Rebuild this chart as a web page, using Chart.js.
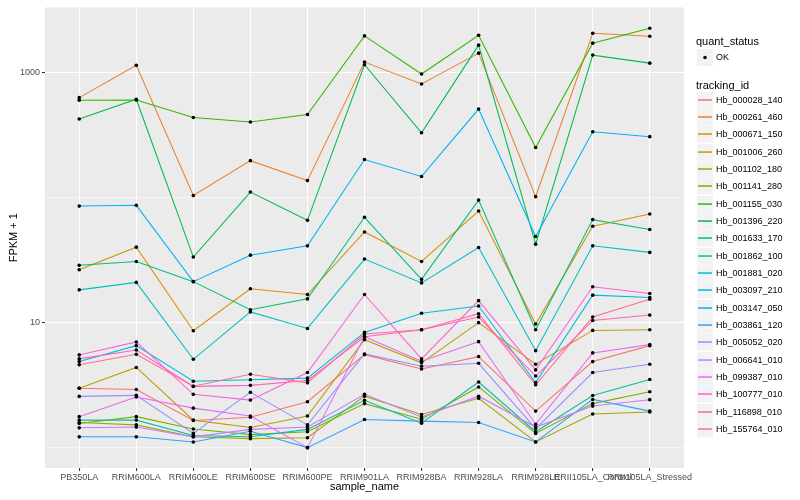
<!DOCTYPE html>
<html>
<head>
<meta charset="utf-8">
<script src="https://cdn.jsdelivr.net/npm/chart.js@4"></script>
<style>
  body { margin: 0; background: #fff; font-family: "Liberation Sans", Arial, sans-serif; }
  #wrap { position: relative; width: 800px; height: 500px; }
  .ttl { position: absolute; left: 696px; font-size: 11px; line-height: 13px; color: #000; white-space: nowrap; }
  .lab { position: absolute; left: 716px; font-size: 9px; line-height: 11px; color: #000; white-space: nowrap; }
</style>
</head>
<body>
<div id="wrap">
  <canvas id="chart" width="800" height="500"></canvas>
  <div id="legend"></div>
</div>
<script>
// x categories
const categories = ['PB350LA', 'RRIM600LA', 'RRIM600LE', 'RRIM600SE', 'RRIM600PE', 'RRIM901LA',
  'RRIM928BA', 'RRIM928LA', 'RRIM928LE', 'RRII105LA_Control', 'RRII105LA_Stressed'];

// y axis (FPKM + 1, log10)
const yGridValues = [1, 10, 100, 1000];
const yTickLabels = [10, 1000];

// FPKM + 1 per tracking id, one value per sample
const hb_000028_140 = [2.99, 2.92, 1.65, 1.75, 2.33, 5.55, 4.26, 5.35, 1.96, 4.88, 6.55];
const hb_000261_460 = [632, 1146, 104, 198, 137, 1217, 813, 1435, 102, 2070, 1959];
const hb_000671_150 = [26.5, 40.2, 8.62, 18.7, 16.8, 53.2, 30.9, 78.2, 9.75, 59.1, 74.0];
const hb_001006_260 = [2.99, 4.38, 1.66, 1.45, 1.79, 7.31, 4.77, 10.0, 4.65, 8.67, 8.78];
const hb_001102_180 = [1.59, 1.52, 1.22, 1.18, 1.20, 2.58, 1.84, 2.48, 1.11, 1.86, 1.93];
const hb_001141_280 = [1.56, 1.77, 1.41, 1.27, 1.34, 2.25, 1.69, 3.06, 1.30, 2.25, 2.80];
const hb_001155_030 = [603, 605, 438, 403, 463, 1972, 977, 1995, 252, 1726, 2270];
const hb_001396_220 = [426, 614, 33.5, 111, 65.9, 1159, 331, 1663, 42.5, 1384, 1194];
const hb_001633_170 = [28.8, 30.9, 21.3, 12.7, 15.5, 69.7, 22.2, 95.7, 8.78, 66.8, 55.6];
const hb_001862_100 = [1.66, 1.66, 1.25, 1.22, 1.40, 2.39, 1.57, 3.35, 1.34, 2.61, 3.51];
const hb_001881_020 = [18.3, 21.0, 5.09, 12.2, 8.99, 32.3, 20.8, 40.0, 5.97, 41.2, 36.5];
const hb_003097_210 = [4.88, 6.55, 3.40, 3.49, 3.60, 8.36, 11.9, 13.6, 3.32, 16.6, 15.9];
const hb_003147_050 = [85.7, 86.9, 21.3, 34.7, 41.2, 202, 148, 512, 48.9, 337, 308];
const hb_003861_120 = [1.22, 1.22, 1.11, 1.35, 1.00, 1.68, 1.63, 1.59, 1.11, 2.43, 1.96];
const hb_005052_020 = [2.57, 2.62, 1.30, 2.77, 1.52, 5.62, 4.48, 4.73, 1.42, 3.99, 4.65];
const hb_006641_010 = [1.44, 1.46, 1.22, 1.40, 1.46, 2.67, 1.76, 2.58, 1.46, 2.15, 2.42];
const hb_099387_010 = [1.77, 2.54, 2.07, 1.79, 1.00, 7.72, 4.91, 7.05, 1.54, 5.73, 6.67];
const hb_100777_010 = [5.52, 7.01, 2.67, 2.40, 3.99, 16.8, 5.13, 15.0, 4.19, 19.4, 17.1];
const hb_116898_010 = [5.13, 6.05, 3.09, 3.15, 3.45, 7.72, 8.78, 11.1, 3.74, 10.4, 11.5];
const hb_155764_010 = [4.60, 5.58, 3.10, 3.87, 3.30, 8.11, 8.78, 11.8, 3.18, 11.1, 15.4];

const trackingIds = ['Hb_000028_140', 'Hb_000261_460', 'Hb_000671_150', 'Hb_001006_260', 'Hb_001102_180',
  'Hb_001141_280', 'Hb_001155_030', 'Hb_001396_220', 'Hb_001633_170', 'Hb_001862_100',
  'Hb_001881_020', 'Hb_003097_210', 'Hb_003147_050', 'Hb_003861_120', 'Hb_005052_020',
  'Hb_006641_010', 'Hb_099387_010', 'Hb_100777_010', 'Hb_116898_010', 'Hb_155764_010'];
const seriesValues = [hb_000028_140, hb_000261_460, hb_000671_150, hb_001006_260, hb_001102_180,
  hb_001141_280, hb_001155_030, hb_001396_220, hb_001633_170, hb_001862_100,
  hb_001881_020, hb_003097_210, hb_003147_050, hb_003861_120, hb_005052_020,
  hb_006641_010, hb_099387_010, hb_100777_010, hb_116898_010, hb_155764_010];

// ggplot default hue palette, 20 levels
const lineColors = ['#F8766D', '#EA8331', '#D89000', '#C09B00', '#A3A500', '#7CAE00', '#39B600',
  '#00BB4E', '#00BF7D', '#00C1A3', '#00BFC4', '#00BAE0', '#00B0F6', '#35A2FF', '#9590FF',
  '#C77CFF', '#E76BF3', '#FA62DB', '#FF62BC', '#FF6C91'];

const fontFamily = '"Liberation Sans", Arial, sans-serif';
const keyY = i => 99.5 + i * 17.35;   // legend row centres

// grey panel behind the grid
const panelBg = {
  id: 'panelBg',
  beforeDraw(chart) {
    const { ctx, chartArea: a } = chart;
    ctx.save();
    ctx.fillStyle = '#EBEBEB';
    ctx.fillRect(a.left, a.top, a.right - a.left, a.bottom - a.top);
    ctx.restore();
  }
};

// legend keys (text is html below)
const legendKeys = {
  id: 'legendKeys',
  afterDraw(chart) {
    const c = chart.ctx;
    c.save();
    c.fillStyle = '#F2F2F2';
    c.fillRect(697, 49, 16, 17);
    c.fillStyle = '#000';
    c.beginPath();
    c.arc(705, 57.5, 1.8, 0, Math.PI * 2);
    c.fill();
    trackingIds.forEach((id, i) => {
      const cy = Math.round(keyY(i));
      c.fillStyle = '#F2F2F2';
      c.fillRect(697, cy - 8, 16, 16.5);
      c.fillStyle = lineColors[i];
      c.fillRect(698, cy - 0.7, 14, 1.5);
    });
    c.restore();
  }
};

const lineSets = seriesValues.map((vals, i) => ({
  label: trackingIds[i],
  data: vals.map((v, j) => ({ x: j, y: v })),
  borderColor: lineColors[i],
  borderWidth: 1.07,
  pointRadius: 0,
  fill: false,
  tension: 0,
  order: 20 - i
}));

const pointSet = {
  label: 'OK',
  data: seriesValues.flatMap(vals => vals.map((v, j) => ({ x: j, y: v }))),
  showLine: false,
  pointRadius: 1.8,
  pointBackgroundColor: '#000',
  pointBorderWidth: 0,
  order: 0
};

const ctx = document.getElementById('chart').getContext('2d');
new Chart(ctx, {
  type: 'line',
  data: { datasets: [pointSet, ...lineSets] },
  options: {
    responsive: false,
    animation: false,
    layout: { padding: { left: 0, right: 116, top: 4, bottom: 0 } },
    plugins: { legend: { display: false }, tooltip: { enabled: false } },
    scales: {
      x: {
        type: 'linear',
        min: -0.6,
        max: 10.6,
        afterBuildTicks: s => { s.ticks = categories.map((c, i) => ({ value: i })); },
        afterFit: s => { s.height = 32; },
        border: { display: false },
        grid: { color: '#fff', lineWidth: 1.07, tickLength: 3, tickColor: '#333' },
        ticks: {
          autoSkip: false, maxRotation: 0, minRotation: 0, padding: 1,
          color: '#4D4D4D', font: { size: 9, family: fontFamily },
          callback: v => categories[v]
        },
        title: {
          display: true, text: 'sample_name', color: '#000',
          font: { size: 11, family: fontFamily }, padding: { top: 0, bottom: 6 }
        }
      },
      y: {
        type: 'logarithmic',
        min: 0.687,
        max: 3334,
        afterBuildTicks: s => { s.ticks = yGridValues.map(v => ({ value: v })); },
        afterFit: s => { s.width = 45; },
        border: { display: false },
        grid: {
          color: '#fff',
          lineWidth: c => (c.tick && yTickLabels.includes(c.tick.value)) ? 1.07 : 0.53,
          tickLength: 3,
          tickColor: c => (c.tick && yTickLabels.includes(c.tick.value)) ? '#333' : 'rgba(0,0,0,0)'
        },
        ticks: {
          padding: 2, color: '#4D4D4D', font: { size: 9, family: fontFamily },
          callback: v => yTickLabels.includes(v) ? String(v) : ''
        },
        title: {
          display: true, text: 'FPKM + 1', color: '#000',
          font: { size: 11, family: fontFamily }, padding: { top: 7, bottom: 0 }
        }
      }
    }
  },
  plugins: [panelBg, legendKeys]
});

// legend text
const legend = document.getElementById('legend');
function addText(cls, top, text) {
  const d = document.createElement('div');
  d.className = cls;
  d.style.top = top + 'px';
  d.textContent = text;
  legend.appendChild(d);
}
addText('ttl', 35, 'quant_status');
addText('lab', 52, 'OK');
addText('ttl', 78.5, 'tracking_id');
trackingIds.forEach((id, i) => addText('lab', Math.round(keyY(i)) - 5.5, id));
</script>
</body>
</html>
